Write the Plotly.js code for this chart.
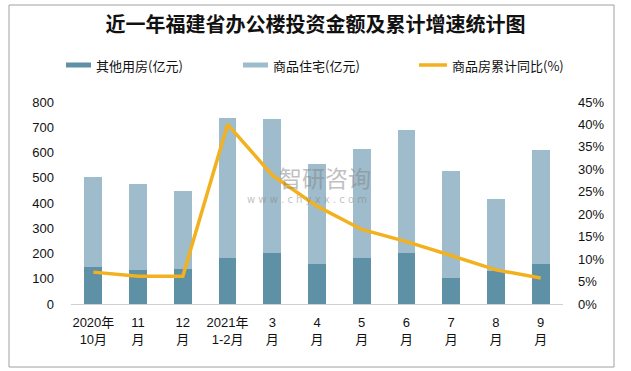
<!DOCTYPE html>
<html>
<head>
<meta charset="utf-8">
<script src="https://cdn.plot.ly/plotly-3.0.1.min.js"></script>
<style>html,body{margin:0;padding:0;background:#fff;}#chart{width:631px;height:371px;}</style>
</head>
<body>
<div id="chart"></div>
<script>
var categories = ["2020年<br>10月","11<br>月","12<br>月","2021年<br>1-2月","3<br>月","4<br>月","5<br>月","6<br>月","7<br>月","8<br>月","9<br>月"];
var otherBuildings = [147,136,140,183,203,159,183,203,104,129,159];
var residential = [355,338,307,552,528,396,430,485,423,287,451];
var cumulativeYoY = [7.1,6.2,6.2,40.0,28.7,21.8,16.6,13.9,10.8,7.6,5.8];
var leftTicks = [0,100,200,300,400,500,600,700,800];
var rightTicks = [0,5,10,15,20,25,30,35,40,45];
var rightTickText = ["0%","5%","10%","15%","20%","25%","30%","35%","40%","45%"];

var W = 631, H = 371, ML = 71, MR = 68, MT = 102, MB = 67;
var PW = W - ML - MR, PH = H - MT - MB;
function px(x){ return (x - ML) / PW; }
function py(y){ return (H - MB - y) / PH; }

var darkColor = '#5E90A6', lightColor = '#9EBCCB', lineColor = '#F2B11E';
var fontFam = 'Liberation Sans, Arial, Noto Sans CJK SC, sans-serif';

var traces = [
  {type:'bar', name:'其他用房(亿元)', x:categories, y:otherBuildings, marker:{color:darkColor}, showlegend:false, hoverinfo:'skip'},
  {type:'bar', name:'商品住宅(亿元)', x:categories, y:residential, marker:{color:lightColor}, showlegend:false, hoverinfo:'skip'},
  {type:'scatter', mode:'lines', name:'商品房累计同比(%)', x:categories, y:cumulativeYoY, yaxis:'y2', line:{color:lineColor, width:3.5}, showlegend:false, hoverinfo:'skip'}
];

var legendText = {size:13, color:'#111', family:'Noto Sans CJK SC, sans-serif'};
var wm = 'rgba(130,130,130,0.5)';
var layout = {
  width:W, height:H,
  margin:{l:ML, r:MR, t:MT, b:MB, pad:0},
  paper_bgcolor:'#fff', plot_bgcolor:'#fff',
  barmode:'stack', bargap:0.6,
  title:{text:'近一年福建省办公楼投资金额及累计增速统计图', x:0.5, xanchor:'center', y:1-25/H, yanchor:'middle',
         font:{size:20, family:'Noto Sans CJK SC, sans-serif', color:'#111', weight:'bold'}},
  font:{family:fontFam, size:13, color:'#111'},
  xaxis:{type:'category', showgrid:false, showline:true, linecolor:'#D0D0D0', linewidth:1, ticks:'', zeroline:false,
         tickfont:{size:13, family:fontFam, color:'#111'}, ticklabelstandoff:6},
  yaxis:{range:[0,800], tickvals:leftTicks, showgrid:false, zeroline:false, showline:false, ticks:'',
         tickfont:{size:13, family:fontFam, color:'#111'}, ticklabelstandoff:16},
  yaxis2:{range:[0,45], overlaying:'y', side:'right', tickvals:rightTicks, ticktext:rightTickText, showgrid:false, zeroline:false, showline:false, ticks:'',
         tickfont:{size:13, family:fontFam, color:'#111'}, ticklabelstandoff:14},
  shapes:[
    {type:'rect', xref:'paper', yref:'paper', x0:px(9), x1:px(614), y0:py(367), y1:py(5), line:{color:'#A0A0A0', width:1}, fillcolor:'rgba(0,0,0,0)', layer:'below'},
    {type:'rect', xref:'paper', yref:'paper', x0:px(66), x1:px(91), y0:py(67.5), y1:py(62.5), line:{width:0}, fillcolor:darkColor},
    {type:'rect', xref:'paper', yref:'paper', x0:px(243), x1:px(268), y0:py(67.5), y1:py(62.5), line:{width:0}, fillcolor:lightColor},
    {type:'line', xref:'paper', yref:'paper', x0:px(419), x1:px(447), y0:py(65), y1:py(65), line:{color:lineColor, width:3.5}}
  ],
  annotations:[
    {xref:'paper', yref:'paper', x:px(94), y:py(65), xanchor:'left', yanchor:'middle', showarrow:false, text:'其他用房(亿元)', font:legendText},
    {xref:'paper', yref:'paper', x:px(271), y:py(65), xanchor:'left', yanchor:'middle', showarrow:false, text:'商品住宅(亿元)', font:legendText},
    {xref:'paper', yref:'paper', x:px(450), y:py(65), xanchor:'left', yanchor:'middle', showarrow:false, text:'商品房累计同比(%)', font:legendText},
    {xref:'paper', yref:'paper', x:px(277), y:py(177), xanchor:'left', yanchor:'middle', showarrow:false, text:'智研咨询', font:{size:23, color:wm, family:'Noto Sans CJK SC, sans-serif'}},
    {xref:'paper', yref:'paper', x:px(245), y:py(199), xanchor:'left', yanchor:'middle', showarrow:false, text:'w w w . c h y x x . c o m', font:{size:10, color:wm, family:'DejaVu Sans, sans-serif'}}
  ]
};
Plotly.newPlot('chart', traces, layout, {staticPlot:true, displayModeBar:false});
</script>
</body>
</html>
